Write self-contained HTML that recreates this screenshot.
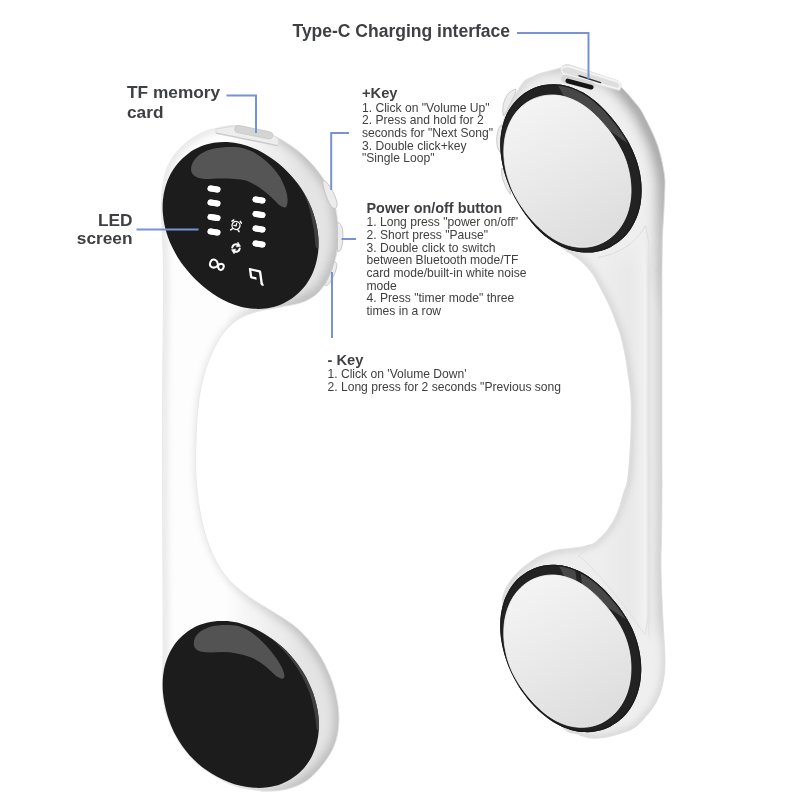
<!DOCTYPE html>
<html lang="en">
<head>
<meta charset="utf-8">
<title>Product feature diagram</title>
<style>
html,body{margin:0;padding:0;background:#fff;}
body{width:800px;height:800px;overflow:hidden;position:relative;font-family:"Liberation Sans",sans-serif;}
svg{position:absolute;left:0;top:0;display:block;}
text{font-family:"Liberation Sans",sans-serif;}
.h{font-weight:bold;fill:#3f4043;}
.b{font-size:12.1px;fill:#404040;}
.ln{fill:none;stroke:#7892d5;stroke-width:2;}
</style>
</head>
<body>
<svg width="800" height="800" viewBox="0 0 800 800">
<defs>
  <linearGradient id="gBodyL" x1="0" y1="0" x2="1" y2="0">
    <stop offset="0" stop-color="#f3f3f3"/>
    <stop offset="0.12" stop-color="#ffffff"/>
    <stop offset="0.55" stop-color="#ffffff"/>
    <stop offset="1" stop-color="#e9e9e9"/>
  </linearGradient>
  <linearGradient id="gBodyR" gradientUnits="userSpaceOnUse" x1="500" y1="0" x2="664" y2="0">
    <stop offset="0" stop-color="#ededed"/>
    <stop offset="0.6" stop-color="#eeeeee"/>
    <stop offset="0.79" stop-color="#e9e9e9"/>
    <stop offset="0.84" stop-color="#ececec"/>
    <stop offset="0.885" stop-color="#f3f3f3"/>
    <stop offset="0.905" stop-color="#e3e3e3"/>
    <stop offset="0.93" stop-color="#e8e8e8"/>
    <stop offset="1" stop-color="#dcdcdc"/>
  </linearGradient>
  <linearGradient id="gMaskL" gradientUnits="userSpaceOnUse" x1="225" y1="0" x2="305" y2="0">
    <stop offset="0" stop-color="#000"/><stop offset="1" stop-color="#fff"/>
  </linearGradient>
  <linearGradient id="gMaskR" gradientUnits="userSpaceOnUse" x1="605" y1="200" x2="665" y2="172">
    <stop offset="0" stop-color="#000"/><stop offset="1" stop-color="#fff"/>
  </linearGradient>
  <linearGradient id="gFadeB" gradientUnits="userSpaceOnUse" x1="0" y1="615" x2="0" y2="645">
    <stop offset="0" stop-color="#efefef" stop-opacity="0"/><stop offset="1" stop-color="#efefef" stop-opacity="1"/>
  </linearGradient>
  <linearGradient id="gFadeT" gradientUnits="userSpaceOnUse" x1="0" y1="240" x2="0" y2="270">
    <stop offset="0" stop-color="#efefef" stop-opacity="1"/><stop offset="1" stop-color="#efefef" stop-opacity="0"/>
  </linearGradient>
  <linearGradient id="gDisc" x1="0.15" y1="0" x2="0.6" y2="1">
    <stop offset="0" stop-color="#f5f5f5"/>
    <stop offset="0.45" stop-color="#ebebeb"/>
    <stop offset="1" stop-color="#dedede"/>
  </linearGradient>
  <filter id="blur1" x="-20%" y="-20%" width="140%" height="140%"><feGaussianBlur stdDeviation="1"/></filter>
  <filter id="blur6" x="-20%" y="-20%" width="140%" height="140%"><feGaussianBlur stdDeviation="6"/></filter>
  <filter id="blur4" x="-20%" y="-20%" width="140%" height="140%"><feGaussianBlur stdDeviation="4"/></filter>
  <filter id="blur3" x="-20%" y="-20%" width="140%" height="140%"><feGaussianBlur stdDeviation="3"/></filter>
  <filter id="glow" x="-50%" y="-50%" width="200%" height="200%"><feGaussianBlur stdDeviation="0.5"/></filter>
</defs>

<!-- ================= LEFT DEVICE ================= -->
<g id="left-device">
  <clipPath id="clipL"><path d="M162.0,226.0C161.8,220.1 161.3,213.5 161.3,207.5C161.3,201.5 161.5,195.8 162.2,190.0C162.9,184.2 163.8,177.9 165.5,172.5C167.2,167.1 169.5,162.1 172.5,157.5C175.5,152.9 179.8,148.5 183.5,145.0C187.2,141.5 191.2,138.8 195.0,136.5C198.8,134.2 202.8,132.4 206.5,131.0C210.2,129.6 213.9,128.9 217.5,128.0C221.1,127.1 224.6,126.2 228.0,125.8C231.4,125.4 235.0,125.4 238.0,125.6C241.0,125.8 243.3,126.2 246.0,126.8C248.7,127.4 251.2,128.1 254.0,129.0C256.8,129.9 259.9,130.9 263.0,132.0C266.1,133.1 269.7,134.4 272.5,135.5C275.3,136.6 277.3,137.4 280.0,138.8C282.7,140.2 285.5,142.0 288.5,144.0C291.5,146.0 294.9,148.3 298.0,150.8C301.1,153.3 304.2,156.0 307.0,158.8C309.8,161.6 312.4,164.4 315.0,167.5C317.6,170.6 320.1,173.9 322.5,177.5C324.9,181.1 327.5,184.8 329.5,189.0C331.5,193.2 333.2,198.0 334.5,203.0C335.8,208.0 336.8,213.7 337.5,219.0C338.2,224.3 338.5,229.8 338.5,235.0C338.5,240.2 338.0,245.4 337.3,250.0C336.6,254.6 335.7,258.5 334.5,262.5C333.3,266.5 331.8,270.2 330.0,274.0C328.2,277.8 326.5,281.9 324.0,285.5C321.5,289.1 318.7,292.7 315.0,295.5C311.3,298.3 307.2,300.7 302.0,302.5C296.8,304.3 290.7,305.2 284.0,306.5C277.3,307.8 268.2,309.1 262.0,310.5C255.8,311.9 251.2,313.0 246.5,315.0C241.8,317.0 237.8,319.2 233.8,322.5C229.7,325.8 225.5,330.1 222.0,335.0C218.5,339.9 215.2,346.2 212.5,352.0C209.8,357.8 207.5,363.7 205.5,370.0C203.5,376.3 201.8,383.3 200.5,390.0C199.2,396.7 198.5,403.3 197.8,410.0C197.1,416.7 196.7,423.3 196.4,430.0C196.1,436.7 195.9,443.3 195.8,450.0C195.7,456.7 195.6,463.7 195.8,470.0C196.0,476.3 196.1,481.3 196.8,488.0C197.5,494.7 198.4,502.2 199.8,510.0C201.2,517.8 203.1,527.0 205.5,535.0C207.9,543.0 211.0,551.0 214.5,558.0C218.0,565.0 222.4,571.8 226.5,577.0C230.6,582.2 234.5,585.2 239.0,589.0C243.5,592.8 247.8,596.0 253.8,600.0C259.8,604.0 267.7,608.2 275.0,613.0C282.3,617.8 290.5,622.2 297.5,628.5C304.5,634.8 311.5,642.9 317.0,651.0C322.5,659.1 327.1,668.5 330.5,677.0C333.9,685.5 336.1,694.0 337.5,702.0C338.9,710.0 339.3,717.8 338.8,725.0C338.3,732.2 337.0,738.7 334.5,745.0C332.0,751.3 328.6,757.1 324.0,763.0C319.4,768.9 313.2,776.1 307.0,780.5C300.8,784.9 294.0,787.5 287.0,789.3C280.0,791.1 271.0,791.3 265.0,791.3C259.0,791.3 255.2,790.1 251.0,789.5C246.8,788.9 243.7,788.5 240.0,787.5C236.3,786.5 232.5,785.4 228.8,783.8C225.0,782.1 221.3,780.0 217.5,777.8C213.7,775.5 209.5,773.0 206.0,770.5C202.5,768.0 199.4,765.9 196.2,763.0C193.1,760.1 190.0,756.5 187.2,753.2C184.5,750.0 182.0,747.0 179.8,743.5C177.5,740.0 175.5,735.7 173.8,732.0C172.0,728.3 170.5,725.2 169.0,721.5C167.5,717.8 166.0,713.8 165.0,710.0C164.0,706.2 163.4,702.5 163.0,698.8C162.6,695.0 162.4,691.3 162.3,687.5C162.2,683.7 162.4,680.6 162.5,676.0C162.6,671.4 162.9,666.0 163.0,660.0C163.1,654.0 163.1,647.5 163.1,640.0C163.1,632.5 163.1,628.3 163.1,615.0C163.1,601.7 162.9,582.5 162.8,560.0C162.7,537.5 162.5,503.3 162.4,480.0C162.3,456.7 162.3,440.0 162.4,420.0C162.5,400.0 162.6,380.0 162.8,360.0C163.0,340.0 163.4,316.3 163.5,300.0C163.6,283.7 163.4,271.5 163.3,262.0C163.2,252.5 162.9,249.0 162.7,243.0C162.5,237.0 162.2,231.9 162.0,226.0Z"/></clipPath>
  <mask id="maskL" maskUnits="userSpaceOnUse" x="0" y="0" width="800" height="800">
    <rect x="0" y="0" width="800" height="800" fill="url(#gMaskL)"/>
  </mask>
  <path id="lbody" d="M162.0,226.0C161.8,220.1 161.3,213.5 161.3,207.5C161.3,201.5 161.5,195.8 162.2,190.0C162.9,184.2 163.8,177.9 165.5,172.5C167.2,167.1 169.5,162.1 172.5,157.5C175.5,152.9 179.8,148.5 183.5,145.0C187.2,141.5 191.2,138.8 195.0,136.5C198.8,134.2 202.8,132.4 206.5,131.0C210.2,129.6 213.9,128.9 217.5,128.0C221.1,127.1 224.6,126.2 228.0,125.8C231.4,125.4 235.0,125.4 238.0,125.6C241.0,125.8 243.3,126.2 246.0,126.8C248.7,127.4 251.2,128.1 254.0,129.0C256.8,129.9 259.9,130.9 263.0,132.0C266.1,133.1 269.7,134.4 272.5,135.5C275.3,136.6 277.3,137.4 280.0,138.8C282.7,140.2 285.5,142.0 288.5,144.0C291.5,146.0 294.9,148.3 298.0,150.8C301.1,153.3 304.2,156.0 307.0,158.8C309.8,161.6 312.4,164.4 315.0,167.5C317.6,170.6 320.1,173.9 322.5,177.5C324.9,181.1 327.5,184.8 329.5,189.0C331.5,193.2 333.2,198.0 334.5,203.0C335.8,208.0 336.8,213.7 337.5,219.0C338.2,224.3 338.5,229.8 338.5,235.0C338.5,240.2 338.0,245.4 337.3,250.0C336.6,254.6 335.7,258.5 334.5,262.5C333.3,266.5 331.8,270.2 330.0,274.0C328.2,277.8 326.5,281.9 324.0,285.5C321.5,289.1 318.7,292.7 315.0,295.5C311.3,298.3 307.2,300.7 302.0,302.5C296.8,304.3 290.7,305.2 284.0,306.5C277.3,307.8 268.2,309.1 262.0,310.5C255.8,311.9 251.2,313.0 246.5,315.0C241.8,317.0 237.8,319.2 233.8,322.5C229.7,325.8 225.5,330.1 222.0,335.0C218.5,339.9 215.2,346.2 212.5,352.0C209.8,357.8 207.5,363.7 205.5,370.0C203.5,376.3 201.8,383.3 200.5,390.0C199.2,396.7 198.5,403.3 197.8,410.0C197.1,416.7 196.7,423.3 196.4,430.0C196.1,436.7 195.9,443.3 195.8,450.0C195.7,456.7 195.6,463.7 195.8,470.0C196.0,476.3 196.1,481.3 196.8,488.0C197.5,494.7 198.4,502.2 199.8,510.0C201.2,517.8 203.1,527.0 205.5,535.0C207.9,543.0 211.0,551.0 214.5,558.0C218.0,565.0 222.4,571.8 226.5,577.0C230.6,582.2 234.5,585.2 239.0,589.0C243.5,592.8 247.8,596.0 253.8,600.0C259.8,604.0 267.7,608.2 275.0,613.0C282.3,617.8 290.5,622.2 297.5,628.5C304.5,634.8 311.5,642.9 317.0,651.0C322.5,659.1 327.1,668.5 330.5,677.0C333.9,685.5 336.1,694.0 337.5,702.0C338.9,710.0 339.3,717.8 338.8,725.0C338.3,732.2 337.0,738.7 334.5,745.0C332.0,751.3 328.6,757.1 324.0,763.0C319.4,768.9 313.2,776.1 307.0,780.5C300.8,784.9 294.0,787.5 287.0,789.3C280.0,791.1 271.0,791.3 265.0,791.3C259.0,791.3 255.2,790.1 251.0,789.5C246.8,788.9 243.7,788.5 240.0,787.5C236.3,786.5 232.5,785.4 228.8,783.8C225.0,782.1 221.3,780.0 217.5,777.8C213.7,775.5 209.5,773.0 206.0,770.5C202.5,768.0 199.4,765.9 196.2,763.0C193.1,760.1 190.0,756.5 187.2,753.2C184.5,750.0 182.0,747.0 179.8,743.5C177.5,740.0 175.5,735.7 173.8,732.0C172.0,728.3 170.5,725.2 169.0,721.5C167.5,717.8 166.0,713.8 165.0,710.0C164.0,706.2 163.4,702.5 163.0,698.8C162.6,695.0 162.4,691.3 162.3,687.5C162.2,683.7 162.4,680.6 162.5,676.0C162.6,671.4 162.9,666.0 163.0,660.0C163.1,654.0 163.1,647.5 163.1,640.0C163.1,632.5 163.1,628.3 163.1,615.0C163.1,601.7 162.9,582.5 162.8,560.0C162.7,537.5 162.5,503.3 162.4,480.0C162.3,456.7 162.3,440.0 162.4,420.0C162.5,400.0 162.6,380.0 162.8,360.0C163.0,340.0 163.4,316.3 163.5,300.0C163.6,283.7 163.4,271.5 163.3,262.0C163.2,252.5 162.9,249.0 162.7,243.0C162.5,237.0 162.2,231.9 162.0,226.0Z" fill="#fdfdfd"/>
  <g clip-path="url(#clipL)">
    <!-- faint overall edge shading -->
    <path d="M162.0,226.0C161.8,220.1 161.3,213.5 161.3,207.5C161.3,201.5 161.5,195.8 162.2,190.0C162.9,184.2 163.8,177.9 165.5,172.5C167.2,167.1 169.5,162.1 172.5,157.5C175.5,152.9 179.8,148.5 183.5,145.0C187.2,141.5 191.2,138.8 195.0,136.5C198.8,134.2 202.8,132.4 206.5,131.0C210.2,129.6 213.9,128.9 217.5,128.0C221.1,127.1 224.6,126.2 228.0,125.8C231.4,125.4 235.0,125.4 238.0,125.6C241.0,125.8 243.3,126.2 246.0,126.8C248.7,127.4 251.2,128.1 254.0,129.0C256.8,129.9 259.9,130.9 263.0,132.0C266.1,133.1 269.7,134.4 272.5,135.5C275.3,136.6 277.3,137.4 280.0,138.8C282.7,140.2 285.5,142.0 288.5,144.0C291.5,146.0 294.9,148.3 298.0,150.8C301.1,153.3 304.2,156.0 307.0,158.8C309.8,161.6 312.4,164.4 315.0,167.5C317.6,170.6 320.1,173.9 322.5,177.5C324.9,181.1 327.5,184.8 329.5,189.0C331.5,193.2 333.2,198.0 334.5,203.0C335.8,208.0 336.8,213.7 337.5,219.0C338.2,224.3 338.5,229.8 338.5,235.0C338.5,240.2 338.0,245.4 337.3,250.0C336.6,254.6 335.7,258.5 334.5,262.5C333.3,266.5 331.8,270.2 330.0,274.0C328.2,277.8 326.5,281.9 324.0,285.5C321.5,289.1 318.7,292.7 315.0,295.5C311.3,298.3 307.2,300.7 302.0,302.5C296.8,304.3 290.7,305.2 284.0,306.5C277.3,307.8 268.2,309.1 262.0,310.5C255.8,311.9 251.2,313.0 246.5,315.0C241.8,317.0 237.8,319.2 233.8,322.5C229.7,325.8 225.5,330.1 222.0,335.0C218.5,339.9 215.2,346.2 212.5,352.0C209.8,357.8 207.5,363.7 205.5,370.0C203.5,376.3 201.8,383.3 200.5,390.0C199.2,396.7 198.5,403.3 197.8,410.0C197.1,416.7 196.7,423.3 196.4,430.0C196.1,436.7 195.9,443.3 195.8,450.0C195.7,456.7 195.6,463.7 195.8,470.0C196.0,476.3 196.1,481.3 196.8,488.0C197.5,494.7 198.4,502.2 199.8,510.0C201.2,517.8 203.1,527.0 205.5,535.0C207.9,543.0 211.0,551.0 214.5,558.0C218.0,565.0 222.4,571.8 226.5,577.0C230.6,582.2 234.5,585.2 239.0,589.0C243.5,592.8 247.8,596.0 253.8,600.0C259.8,604.0 267.7,608.2 275.0,613.0C282.3,617.8 290.5,622.2 297.5,628.5C304.5,634.8 311.5,642.9 317.0,651.0C322.5,659.1 327.1,668.5 330.5,677.0C333.9,685.5 336.1,694.0 337.5,702.0C338.9,710.0 339.3,717.8 338.8,725.0C338.3,732.2 337.0,738.7 334.5,745.0C332.0,751.3 328.6,757.1 324.0,763.0C319.4,768.9 313.2,776.1 307.0,780.5C300.8,784.9 294.0,787.5 287.0,789.3C280.0,791.1 271.0,791.3 265.0,791.3C259.0,791.3 255.2,790.1 251.0,789.5C246.8,788.9 243.7,788.5 240.0,787.5C236.3,786.5 232.5,785.4 228.8,783.8C225.0,782.1 221.3,780.0 217.5,777.8C213.7,775.5 209.5,773.0 206.0,770.5C202.5,768.0 199.4,765.9 196.2,763.0C193.1,760.1 190.0,756.5 187.2,753.2C184.5,750.0 182.0,747.0 179.8,743.5C177.5,740.0 175.5,735.7 173.8,732.0C172.0,728.3 170.5,725.2 169.0,721.5C167.5,717.8 166.0,713.8 165.0,710.0C164.0,706.2 163.4,702.5 163.0,698.8C162.6,695.0 162.4,691.3 162.3,687.5C162.2,683.7 162.4,680.6 162.5,676.0C162.6,671.4 162.9,666.0 163.0,660.0C163.1,654.0 163.1,647.5 163.1,640.0C163.1,632.5 163.1,628.3 163.1,615.0C163.1,601.7 162.9,582.5 162.8,560.0C162.7,537.5 162.5,503.3 162.4,480.0C162.3,456.7 162.3,440.0 162.4,420.0C162.5,400.0 162.6,380.0 162.8,360.0C163.0,340.0 163.4,316.3 163.5,300.0C163.6,283.7 163.4,271.5 163.3,262.0C163.2,252.5 162.9,249.0 162.7,243.0C162.5,237.0 162.2,231.9 162.0,226.0Z" fill="none" stroke="#c4c4c4" stroke-width="7" filter="url(#blur3)" opacity="0.38" transform="translate(1.500,0)"/>
    <!-- stronger rim shading on the right of both heads -->
    <g mask="url(#maskL)">
      <rect x="200" y="100" width="160" height="700" fill="#e4e4e4"/>
      <path d="M162.0,226.0C161.8,220.1 161.3,213.5 161.3,207.5C161.3,201.5 161.5,195.8 162.2,190.0C162.9,184.2 163.8,177.9 165.5,172.5C167.2,167.1 169.5,162.1 172.5,157.5C175.5,152.9 179.8,148.5 183.5,145.0C187.2,141.5 191.2,138.8 195.0,136.5C198.8,134.2 202.8,132.4 206.5,131.0C210.2,129.6 213.9,128.9 217.5,128.0C221.1,127.1 224.6,126.2 228.0,125.8C231.4,125.4 235.0,125.4 238.0,125.6C241.0,125.8 243.3,126.2 246.0,126.8C248.7,127.4 251.2,128.1 254.0,129.0C256.8,129.9 259.9,130.9 263.0,132.0C266.1,133.1 269.7,134.4 272.5,135.5C275.3,136.6 277.3,137.4 280.0,138.8C282.7,140.2 285.5,142.0 288.5,144.0C291.5,146.0 294.9,148.3 298.0,150.8C301.1,153.3 304.2,156.0 307.0,158.8C309.8,161.6 312.4,164.4 315.0,167.5C317.6,170.6 320.1,173.9 322.5,177.5C324.9,181.1 327.5,184.8 329.5,189.0C331.5,193.2 333.2,198.0 334.5,203.0C335.8,208.0 336.8,213.7 337.5,219.0C338.2,224.3 338.5,229.8 338.5,235.0C338.5,240.2 338.0,245.4 337.3,250.0C336.6,254.6 335.7,258.5 334.5,262.5C333.3,266.5 331.8,270.2 330.0,274.0C328.2,277.8 326.5,281.9 324.0,285.5C321.5,289.1 318.7,292.7 315.0,295.5C311.3,298.3 307.2,300.7 302.0,302.5C296.8,304.3 290.7,305.2 284.0,306.5C277.3,307.8 268.2,309.1 262.0,310.5C255.8,311.9 251.2,313.0 246.5,315.0C241.8,317.0 237.8,319.2 233.8,322.5C229.7,325.8 225.5,330.1 222.0,335.0C218.5,339.9 215.2,346.2 212.5,352.0C209.8,357.8 207.5,363.7 205.5,370.0C203.5,376.3 201.8,383.3 200.5,390.0C199.2,396.7 198.5,403.3 197.8,410.0C197.1,416.7 196.7,423.3 196.4,430.0C196.1,436.7 195.9,443.3 195.8,450.0C195.7,456.7 195.6,463.7 195.8,470.0C196.0,476.3 196.1,481.3 196.8,488.0C197.5,494.7 198.4,502.2 199.8,510.0C201.2,517.8 203.1,527.0 205.5,535.0C207.9,543.0 211.0,551.0 214.5,558.0C218.0,565.0 222.4,571.8 226.5,577.0C230.6,582.2 234.5,585.2 239.0,589.0C243.5,592.8 247.8,596.0 253.8,600.0C259.8,604.0 267.7,608.2 275.0,613.0C282.3,617.8 290.5,622.2 297.5,628.5C304.5,634.8 311.5,642.9 317.0,651.0C322.5,659.1 327.1,668.5 330.5,677.0C333.9,685.5 336.1,694.0 337.5,702.0C338.9,710.0 339.3,717.8 338.8,725.0C338.3,732.2 337.0,738.7 334.5,745.0C332.0,751.3 328.6,757.1 324.0,763.0C319.4,768.9 313.2,776.1 307.0,780.5C300.8,784.9 294.0,787.5 287.0,789.3C280.0,791.1 271.0,791.3 265.0,791.3C259.0,791.3 255.2,790.1 251.0,789.5C246.8,788.9 243.7,788.5 240.0,787.5C236.3,786.5 232.5,785.4 228.8,783.8C225.0,782.1 221.3,780.0 217.5,777.8C213.7,775.5 209.5,773.0 206.0,770.5C202.5,768.0 199.4,765.9 196.2,763.0C193.1,760.1 190.0,756.5 187.2,753.2C184.5,750.0 182.0,747.0 179.8,743.5C177.5,740.0 175.5,735.7 173.8,732.0C172.0,728.3 170.5,725.2 169.0,721.5C167.5,717.8 166.0,713.8 165.0,710.0C164.0,706.2 163.4,702.5 163.0,698.8C162.6,695.0 162.4,691.3 162.3,687.5C162.2,683.7 162.4,680.6 162.5,676.0C162.6,671.4 162.9,666.0 163.0,660.0C163.1,654.0 163.1,647.5 163.1,640.0C163.1,632.5 163.1,628.3 163.1,615.0C163.1,601.7 162.9,582.5 162.8,560.0C162.7,537.5 162.5,503.3 162.4,480.0C162.3,456.7 162.3,440.0 162.4,420.0C162.5,400.0 162.6,380.0 162.8,360.0C163.0,340.0 163.4,316.3 163.5,300.0C163.6,283.7 163.4,271.5 163.3,262.0C163.2,252.5 162.9,249.0 162.7,243.0C162.5,237.0 162.2,231.9 162.0,226.0Z" fill="none" stroke="#9a9a9a" stroke-width="14" filter="url(#blur4)" transform="translate(2,-1)" opacity="0.5"/>
    </g>
  </g>
  <path d="M162.0,226.0C161.8,220.1 161.3,213.5 161.3,207.5C161.3,201.5 161.5,195.8 162.2,190.0C162.9,184.2 163.8,177.9 165.5,172.5C167.2,167.1 169.5,162.1 172.5,157.5C175.5,152.9 179.8,148.5 183.5,145.0C187.2,141.5 191.2,138.8 195.0,136.5C198.8,134.2 202.8,132.4 206.5,131.0C210.2,129.6 213.9,128.9 217.5,128.0C221.1,127.1 224.6,126.2 228.0,125.8C231.4,125.4 235.0,125.4 238.0,125.6C241.0,125.8 243.3,126.2 246.0,126.8C248.7,127.4 251.2,128.1 254.0,129.0C256.8,129.9 259.9,130.9 263.0,132.0C266.1,133.1 269.7,134.4 272.5,135.5C275.3,136.6 277.3,137.4 280.0,138.8C282.7,140.2 285.5,142.0 288.5,144.0C291.5,146.0 294.9,148.3 298.0,150.8C301.1,153.3 304.2,156.0 307.0,158.8C309.8,161.6 312.4,164.4 315.0,167.5C317.6,170.6 320.1,173.9 322.5,177.5C324.9,181.1 327.5,184.8 329.5,189.0C331.5,193.2 333.2,198.0 334.5,203.0C335.8,208.0 336.8,213.7 337.5,219.0C338.2,224.3 338.5,229.8 338.5,235.0C338.5,240.2 338.0,245.4 337.3,250.0C336.6,254.6 335.7,258.5 334.5,262.5C333.3,266.5 331.8,270.2 330.0,274.0C328.2,277.8 326.5,281.9 324.0,285.5C321.5,289.1 318.7,292.7 315.0,295.5C311.3,298.3 307.2,300.7 302.0,302.5C296.8,304.3 290.7,305.2 284.0,306.5C277.3,307.8 268.2,309.1 262.0,310.5C255.8,311.9 251.2,313.0 246.5,315.0C241.8,317.0 237.8,319.2 233.8,322.5C229.7,325.8 225.5,330.1 222.0,335.0C218.5,339.9 215.2,346.2 212.5,352.0C209.8,357.8 207.5,363.7 205.5,370.0C203.5,376.3 201.8,383.3 200.5,390.0C199.2,396.7 198.5,403.3 197.8,410.0C197.1,416.7 196.7,423.3 196.4,430.0C196.1,436.7 195.9,443.3 195.8,450.0C195.7,456.7 195.6,463.7 195.8,470.0C196.0,476.3 196.1,481.3 196.8,488.0C197.5,494.7 198.4,502.2 199.8,510.0C201.2,517.8 203.1,527.0 205.5,535.0C207.9,543.0 211.0,551.0 214.5,558.0C218.0,565.0 222.4,571.8 226.5,577.0C230.6,582.2 234.5,585.2 239.0,589.0C243.5,592.8 247.8,596.0 253.8,600.0C259.8,604.0 267.7,608.2 275.0,613.0C282.3,617.8 290.5,622.2 297.5,628.5C304.5,634.8 311.5,642.9 317.0,651.0C322.5,659.1 327.1,668.5 330.5,677.0C333.9,685.5 336.1,694.0 337.5,702.0C338.9,710.0 339.3,717.8 338.8,725.0C338.3,732.2 337.0,738.7 334.5,745.0C332.0,751.3 328.6,757.1 324.0,763.0C319.4,768.9 313.2,776.1 307.0,780.5C300.8,784.9 294.0,787.5 287.0,789.3C280.0,791.1 271.0,791.3 265.0,791.3C259.0,791.3 255.2,790.1 251.0,789.5C246.8,788.9 243.7,788.5 240.0,787.5C236.3,786.5 232.5,785.4 228.8,783.8C225.0,782.1 221.3,780.0 217.5,777.8C213.7,775.5 209.5,773.0 206.0,770.5C202.5,768.0 199.4,765.9 196.2,763.0C193.1,760.1 190.0,756.5 187.2,753.2C184.5,750.0 182.0,747.0 179.8,743.5C177.5,740.0 175.5,735.7 173.8,732.0C172.0,728.3 170.5,725.2 169.0,721.5C167.5,717.8 166.0,713.8 165.0,710.0C164.0,706.2 163.4,702.5 163.0,698.8C162.6,695.0 162.4,691.3 162.3,687.5C162.2,683.7 162.4,680.6 162.5,676.0C162.6,671.4 162.9,666.0 163.0,660.0C163.1,654.0 163.1,647.5 163.1,640.0C163.1,632.5 163.1,628.3 163.1,615.0C163.1,601.7 162.9,582.5 162.8,560.0C162.7,537.5 162.5,503.3 162.4,480.0C162.3,456.7 162.3,440.0 162.4,420.0C162.5,400.0 162.6,380.0 162.8,360.0C163.0,340.0 163.4,316.3 163.5,300.0C163.6,283.7 163.4,271.5 163.3,262.0C163.2,252.5 162.9,249.0 162.7,243.0C162.5,237.0 162.2,231.9 162.0,226.0Z" fill="none" stroke="#e6e6e6" stroke-width="0.8"/>
  <!-- side buttons -->
  <path d="M322.500,181.500 C324,180.300 326,181 328,184 C331.500,188.500 335,195 336.800,201.500 C337.500,205 337,207.500 335.300,208.500 C333.500,208.800 331.500,207 330,204.500 C327,199 324,191 322.500,181.500 Z" fill="#ececec" stroke="#c2c2c2" stroke-width="0.900"/>
  <path d="M337.300,222.300 C339.500,222.500 341.800,225 342.600,230 C343.300,236 343,243 341.500,248 C340.500,250.800 339,252 337.800,251.500 C337,246 337.500,238 337.500,232 C337.500,228 337,225 337.300,222.300 Z" fill="#ececec" stroke="#c2c2c2" stroke-width="0.900"/>
  <path d="M334.300,261.500 C336.500,262 337.300,264.500 336.500,268 C335,274 332,280 328.500,284.300 C327,285.800 325.300,286 324.500,285 C326.500,281 330,275 332,269 C333,266 333.500,263 334.300,261.500 Z" fill="#ececec" stroke="#c2c2c2" stroke-width="0.900"/>
  <!-- TF slot -->
  <path d="M216,129 L238,125.500 L276,136.500 L279,141 L278,146 L216,133.500 Z" fill="#ededed" stroke="#d6d6d6" stroke-width="0.8"/>
  <path d="M216.500,133 L277.500,145.500" stroke="#c9c9c9" stroke-width="1.2" fill="none"/>
  <rect x="234.500" y="128.600" width="38.500" height="7.200" rx="3.600" fill="#d4d4d4" stroke="#c6c6c6" stroke-width="0.700" transform="rotate(11.500 253.700 132.200)"/>
  <!-- LED screen -->
  <path d="M316.7,225.4C317.5,229.4 318.1,233.5 318.4,237.7C318.6,241.9 318.7,246.3 318.3,250.6C317.9,254.9 317.1,259.4 315.9,263.7C314.7,268.1 313.1,272.4 311.0,276.5C308.9,280.6 306.3,284.6 303.3,288.1C300.4,291.6 296.9,294.9 293.2,297.6C289.4,300.4 285.2,302.7 281.0,304.5C276.7,306.2 272.1,307.5 267.6,308.2C263.1,308.9 258.4,309.0 253.9,308.8C249.4,308.5 244.9,307.7 240.7,306.7C236.4,305.6 232.3,304.1 228.5,302.4C224.6,300.8 221.0,298.8 217.5,296.7C214.1,294.6 210.8,292.4 207.7,290.0C204.7,287.7 201.8,285.2 199.0,282.7C196.3,280.2 193.7,277.6 191.2,274.9C188.7,272.2 186.4,269.4 184.1,266.5C181.9,263.6 179.8,260.6 177.8,257.4C175.9,254.3 174.0,251.0 172.4,247.6C170.7,244.2 169.2,240.6 167.9,236.9C166.6,233.2 165.4,229.4 164.6,225.4C163.7,221.4 163.1,217.3 162.8,213.1C162.5,208.9 162.5,204.5 162.9,200.1C163.3,195.8 164.1,191.3 165.3,187.0C166.6,182.7 168.3,178.4 170.4,174.3C172.5,170.3 175.1,166.3 178.1,162.9C181.1,159.4 184.6,156.1 188.4,153.4C192.1,150.7 196.3,148.4 200.5,146.6C204.8,144.8 209.3,143.6 213.8,142.8C218.3,142.0 223.0,141.8 227.5,142.0C231.9,142.2 236.4,142.9 240.7,143.9C244.9,144.9 249.1,146.3 253.0,147.9C256.9,149.5 260.6,151.4 264.1,153.4C267.6,155.4 270.9,157.6 274.0,159.9C277.2,162.3 280.1,164.7 282.9,167.3C285.7,169.8 288.3,172.5 290.8,175.2C293.3,178.0 295.7,180.9 297.9,183.8C300.1,186.8 302.1,189.9 304.0,193.1C306.0,196.3 307.7,199.6 309.3,203.1C310.9,206.6 312.3,210.1 313.6,213.9C314.8,217.6 315.9,221.4 316.7,225.4Z" fill="#1c1c1c"/>
  <clipPath id="clipLT"><path d="M316.7,225.4C317.5,229.4 318.1,233.5 318.4,237.7C318.6,241.9 318.7,246.3 318.3,250.6C317.9,254.9 317.1,259.4 315.9,263.7C314.7,268.1 313.1,272.4 311.0,276.5C308.9,280.6 306.3,284.6 303.3,288.1C300.4,291.6 296.9,294.9 293.2,297.6C289.4,300.4 285.2,302.7 281.0,304.5C276.7,306.2 272.1,307.5 267.6,308.2C263.1,308.9 258.4,309.0 253.9,308.8C249.4,308.5 244.9,307.7 240.7,306.7C236.4,305.6 232.3,304.1 228.5,302.4C224.6,300.8 221.0,298.8 217.5,296.7C214.1,294.6 210.8,292.4 207.7,290.0C204.7,287.7 201.8,285.2 199.0,282.7C196.3,280.2 193.7,277.6 191.2,274.9C188.7,272.2 186.4,269.4 184.1,266.5C181.9,263.6 179.8,260.6 177.8,257.4C175.9,254.3 174.0,251.0 172.4,247.6C170.7,244.2 169.2,240.6 167.9,236.9C166.6,233.2 165.4,229.4 164.6,225.4C163.7,221.4 163.1,217.3 162.8,213.1C162.5,208.9 162.5,204.5 162.9,200.1C163.3,195.8 164.1,191.3 165.3,187.0C166.6,182.7 168.3,178.4 170.4,174.3C172.5,170.3 175.1,166.3 178.1,162.9C181.1,159.4 184.6,156.1 188.4,153.4C192.1,150.7 196.3,148.4 200.5,146.6C204.8,144.8 209.3,143.6 213.8,142.8C218.3,142.0 223.0,141.8 227.5,142.0C231.9,142.2 236.4,142.9 240.7,143.9C244.9,144.9 249.1,146.3 253.0,147.9C256.9,149.5 260.6,151.4 264.1,153.4C267.6,155.4 270.9,157.6 274.0,159.9C277.2,162.3 280.1,164.7 282.9,167.3C285.7,169.8 288.3,172.5 290.8,175.2C293.3,178.0 295.7,180.9 297.9,183.8C300.1,186.8 302.1,189.9 304.0,193.1C306.0,196.3 307.7,199.6 309.3,203.1C310.9,206.6 312.3,210.1 313.6,213.9C314.8,217.6 315.9,221.4 316.7,225.4Z"/></clipPath>
  <g clip-path="url(#clipLT)">
    <path d="M268,150 C290,162 306,185 313,212 C316,224 317.500,236 318,246" fill="none" stroke="#474747" stroke-width="5" stroke-linecap="round" opacity="0.85"/>
  </g>
  <path d="M191,170 C191,160 200,152 212,149 C222,147 232,146.500 240,147.500 C255,150 270,162 280,177 C286,188 289,198 287,205 C286,209 283,208 278,204 C270,195 258,185 246,180.500 C236,178.500 222,178 210,179 C200,179.500 192,177 191,170 Z" fill="#555555"/>
  <g id="led" fill="#ffffff">
    <g filter="url(#glow)" opacity="0.9">
      <rect x="207.500" y="186" width="13" height="6" rx="3" transform="rotate(9 214 189)"/>
      <rect x="207.500" y="200" width="13" height="6" rx="3" transform="rotate(9 214 203)"/>
      <rect x="207.500" y="214.500" width="13" height="6" rx="3" transform="rotate(9 214 217.500)"/>
      <rect x="207.500" y="229" width="13" height="6" rx="3" transform="rotate(9 214 232)"/>
      <rect x="252.500" y="197" width="13" height="6" rx="3" transform="rotate(9 259 200)"/>
      <rect x="252.500" y="211.500" width="13" height="6" rx="3" transform="rotate(9 259 214.500)"/>
      <rect x="252.500" y="226" width="13" height="6" rx="3" transform="rotate(9 259 229)"/>
      <rect x="252.500" y="241" width="13" height="6" rx="3" transform="rotate(9 259 244)"/>
    </g>
    <rect x="207.5" y="186.1" width="13" height="5.800" rx="2.900" transform="rotate(9 214 189)"/>
    <rect x="207.5" y="200.1" width="13" height="5.800" rx="2.900" transform="rotate(9 214 203)"/>
    <rect x="207.5" y="214.6" width="13" height="5.800" rx="2.900" transform="rotate(9 214 217.500)"/>
    <rect x="207.5" y="229.1" width="13" height="5.800" rx="2.900" transform="rotate(9 214 232)"/>
    <rect x="252.5" y="197.1" width="13" height="5.800" rx="2.900" transform="rotate(9 259 200)"/>
    <rect x="252.5" y="211.6" width="13" height="5.800" rx="2.900" transform="rotate(9 259 214.500)"/>
    <rect x="252.5" y="226.1" width="13" height="5.800" rx="2.900" transform="rotate(9 259 229)"/>
    <rect x="252.5" y="241.1" width="13" height="5.800" rx="2.900" transform="rotate(9 259 244)"/>
  </g>
  <g id="led-icons" fill="none" stroke="#ffffff" stroke-linecap="round" stroke-linejoin="round">
    <!-- alarm clock -->
    <g transform="translate(236 225.500) rotate(12)" stroke-width="1.300">
      <circle cx="0" cy="0" r="4"/>
      <path d="M0.200,-2 V0.300 H-2"/>
      <path d="M-4.800,-3.400 L-3.300,-5 M4.800,-3.400 L3.300,-5 M-3,4 L-4.300,5.400 M3,4 L4.300,5.400" stroke-width="1.500"/>
    </g>
    <!-- refresh -->
    <g transform="translate(236 248) rotate(18)" stroke-width="2">
      <path d="M-3.700,0.800 A3.800,3.800 0 0 1 0.800,-3.700"/>
      <path d="M3.700,-0.800 A3.800,3.800 0 0 1 -0.800,3.700"/>
      <path d="M0.200,-6 L3.800,-3 L0.200,-1.200 Z" fill="#fff" stroke-width="0.500"/>
      <path d="M-0.200,6 L-3.800,3 L-0.200,1.200 Z" fill="#fff" stroke-width="0.500"/>
    </g>
    <!-- sleep / infinity -->
    <g transform="translate(217.200 265.200) rotate(22)" stroke-width="2">
      <path d="M0.800,0 C-1.800,-6 -7.400,-5 -7.400,-0.200 C-7.400,4.800 -1.800,5.600 0.800,0 C2.600,-4.200 6.800,-3.600 6.800,0.200 C6.800,4 2.600,4.400 0.800,0 Z"/>
    </g>
    <!-- music -->
    <g transform="matrix(1 0.24 0.14 1 255.600 275.800)" stroke-width="2.400" stroke-linecap="butt" stroke-linejoin="round">
      <path d="M0.500,2.600 L-4.800,2.600 L-4.800,-5.500 L5.200,-5.500 L5.200,7.500"/>
      <circle cx="5.600" cy="7.200" r="1.500" fill="#fff" stroke="none"/>
    </g>
  </g>
  <!-- bottom pad -->
  <path d="M316.4,704.5C317.4,708.4 318.1,712.5 318.5,716.8C318.9,721.0 319.1,725.4 318.8,729.8C318.5,734.2 317.9,738.8 316.8,743.2C315.6,747.6 314.0,752.1 311.9,756.2C309.8,760.3 307.1,764.3 304.1,767.9C301.0,771.4 297.4,774.7 293.6,777.3C289.8,780.0 285.5,782.2 281.2,783.9C276.8,785.6 272.1,786.7 267.6,787.3C263.1,788.0 258.4,788.0 253.9,787.8C249.4,787.5 244.9,786.8 240.7,785.8C236.4,784.8 232.3,783.4 228.4,781.9C224.5,780.4 220.8,778.6 217.2,776.7C213.6,774.8 210.2,772.7 207.0,770.5C203.8,768.3 200.7,765.9 197.9,763.4C195.0,760.9 192.3,758.2 189.7,755.4C187.2,752.6 184.8,749.7 182.6,746.6C180.4,743.6 178.4,740.4 176.6,737.1C174.8,733.8 173.1,730.4 171.6,726.9C170.1,723.4 168.8,719.8 167.6,716.0C166.5,712.3 165.5,708.4 164.7,704.5C163.9,700.5 163.2,696.4 162.9,692.1C162.6,687.9 162.5,683.5 162.8,679.1C163.1,674.8 163.7,670.2 164.8,665.8C166.0,661.4 167.5,656.9 169.6,652.8C171.7,648.7 174.2,644.6 177.2,641.0C180.2,637.5 183.8,634.1 187.6,631.4C191.4,628.7 195.7,626.4 200.1,624.8C204.4,623.1 209.1,622.0 213.7,621.4C218.2,620.8 223.0,620.8 227.5,621.1C232.0,621.5 236.5,622.4 240.7,623.5C244.9,624.6 249.0,626.1 252.8,627.8C256.7,629.4 260.3,631.4 263.8,633.4C267.2,635.4 270.5,637.6 273.6,639.9C276.6,642.2 279.6,644.6 282.3,647.1C285.1,649.6 287.7,652.2 290.2,654.9C292.7,657.6 295.0,660.4 297.2,663.4C299.4,666.3 301.4,669.4 303.3,672.5C305.3,675.7 307.0,679.0 308.6,682.4C310.3,685.8 311.7,689.3 313.1,693.0C314.4,696.7 315.5,700.5 316.4,704.5Z" fill="#1c1c1c"/>
  <clipPath id="clipLB"><path d="M316.4,704.5C317.4,708.4 318.1,712.5 318.5,716.8C318.9,721.0 319.1,725.4 318.8,729.8C318.5,734.2 317.9,738.8 316.8,743.2C315.6,747.6 314.0,752.1 311.9,756.2C309.8,760.3 307.1,764.3 304.1,767.9C301.0,771.4 297.4,774.7 293.6,777.3C289.8,780.0 285.5,782.2 281.2,783.9C276.8,785.6 272.1,786.7 267.6,787.3C263.1,788.0 258.4,788.0 253.9,787.8C249.4,787.5 244.9,786.8 240.7,785.8C236.4,784.8 232.3,783.4 228.4,781.9C224.5,780.4 220.8,778.6 217.2,776.7C213.6,774.8 210.2,772.7 207.0,770.5C203.8,768.3 200.7,765.9 197.9,763.4C195.0,760.9 192.3,758.2 189.7,755.4C187.2,752.6 184.8,749.7 182.6,746.6C180.4,743.6 178.4,740.4 176.6,737.1C174.8,733.8 173.1,730.4 171.6,726.9C170.1,723.4 168.8,719.8 167.6,716.0C166.5,712.3 165.5,708.4 164.7,704.5C163.9,700.5 163.2,696.4 162.9,692.1C162.6,687.9 162.5,683.5 162.8,679.1C163.1,674.8 163.7,670.2 164.8,665.8C166.0,661.4 167.5,656.9 169.6,652.8C171.7,648.7 174.2,644.6 177.2,641.0C180.2,637.5 183.8,634.1 187.6,631.4C191.4,628.7 195.7,626.4 200.1,624.8C204.4,623.1 209.1,622.0 213.7,621.4C218.2,620.8 223.0,620.8 227.5,621.1C232.0,621.5 236.5,622.4 240.7,623.5C244.9,624.6 249.0,626.1 252.8,627.8C256.7,629.4 260.3,631.4 263.8,633.4C267.2,635.4 270.5,637.6 273.6,639.9C276.6,642.2 279.6,644.6 282.3,647.1C285.1,649.6 287.7,652.2 290.2,654.9C292.7,657.6 295.0,660.4 297.2,663.4C299.4,666.3 301.4,669.4 303.3,672.5C305.3,675.7 307.0,679.0 308.6,682.4C310.3,685.8 311.7,689.3 313.1,693.0C314.4,696.7 315.5,700.5 316.4,704.5Z"/></clipPath>
  <g clip-path="url(#clipLB)">
    <path d="M262,629 C285,643 303,668 312,692 C316,704 318,716 319,728" fill="none" stroke="#474747" stroke-width="5" stroke-linecap="round" opacity="0.85"/>
  </g>
  <path d="M193.800,644 C193.500,636 200,630 211,626.500 C220,624.500 230,624.500 238,626 C250,628.500 262,641 270,650 C278,660 284,669 284.500,676 C284,680 281,679 276,676 C268,668 260,661 250,657 C242,654 232,652 222,652 C212,652.500 203,653 198,650.500 C195,649 194,647 193.800,644 Z" fill="#535353"/>
</g>

<!-- ================= RIGHT DEVICE ================= -->
<g id="right-device">
  <clipPath id="clipR"><path d="M540.0,73.5C543.1,72.5 547.9,71.4 551.2,70.5C554.6,69.6 558.3,68.8 560.2,68.0C562.2,67.2 561.7,66.4 563.0,65.8C564.3,65.2 565.6,64.3 568.0,64.6C570.4,64.9 573.8,66.3 577.5,67.5C581.2,68.7 586.2,70.2 590.0,71.5C593.8,72.8 596.3,73.6 600.0,75.0C603.7,76.4 608.7,78.2 612.0,80.0C615.3,81.8 617.5,83.8 620.0,86.0C622.5,88.2 624.5,90.2 627.0,93.0C629.5,95.8 632.7,99.6 635.0,102.5C637.3,105.4 638.9,106.9 641.0,110.2C643.1,113.6 645.5,118.5 647.5,122.5C649.5,126.5 651.3,130.2 653.0,134.0C654.7,137.8 656.2,141.2 657.5,145.0C658.8,148.8 660.0,153.0 661.0,157.0C662.0,161.0 662.8,165.0 663.5,169.0C664.2,173.0 664.8,176.7 665.0,181.0C665.2,185.3 664.8,190.2 664.6,195.0C664.4,199.8 664.2,205.0 664.0,210.0C663.8,215.0 663.4,220.0 663.1,225.0C662.8,230.0 662.6,232.5 662.4,240.0C662.2,247.5 662.1,260.0 662.0,270.0C661.9,280.0 662.0,286.7 662.0,300.0C662.0,313.3 662.0,333.3 662.0,350.0C662.0,366.7 662.0,383.3 662.0,400.0C662.0,416.7 662.0,433.3 662.0,450.0C662.0,466.7 662.1,485.0 662.0,500.0C661.9,515.0 661.7,530.0 661.5,540.0C661.3,550.0 661.0,552.5 661.0,560.0C661.0,567.5 661.2,576.7 661.5,585.0C661.8,593.3 662.2,602.5 662.5,610.0C662.8,617.5 663.2,623.8 663.5,630.0C663.8,636.2 664.2,641.7 664.5,647.5C664.8,653.3 665.3,658.8 665.0,665.0C664.7,671.2 664.0,678.8 662.5,685.0C661.0,691.2 658.9,697.1 656.0,702.5C653.1,707.9 648.7,713.2 645.0,717.5C641.3,721.8 638.1,725.2 633.8,728.0C629.4,730.8 623.8,732.4 618.8,734.0C613.8,735.6 608.5,736.8 603.8,737.5C599.0,738.2 594.8,738.7 590.0,738.0C585.2,737.3 578.8,734.7 575.0,733.5C571.2,732.3 571.4,734.1 567.0,731.0C562.6,727.9 554.8,720.7 548.8,715.0C542.8,709.3 536.0,702.5 531.0,697.0C526.0,691.5 522.5,688.0 519.0,682.0C515.5,676.0 512.2,667.2 510.0,661.0C507.8,654.8 506.9,651.5 506.0,645.0C505.1,638.5 504.9,628.3 504.5,622.0C504.1,615.7 503.6,610.9 503.3,607.0C503.0,603.1 502.0,602.0 502.5,598.8C503.0,595.5 504.6,590.9 506.2,587.5C507.9,584.1 510.0,581.4 512.2,578.5C514.5,575.6 517.0,572.8 519.8,570.2C522.5,567.7 525.4,565.4 528.8,563.0C532.1,560.6 535.6,558.1 540.0,556.0C544.4,553.9 550.0,551.8 555.0,550.5C560.0,549.2 565.6,549.1 570.0,548.5C574.4,547.9 578.1,547.6 581.2,547.0C584.4,546.4 586.5,545.8 588.8,545.0C591.0,544.2 591.9,545.0 595.0,542.5C598.1,540.0 603.8,535.0 607.5,530.0C611.2,525.0 614.8,518.8 617.5,512.5C620.2,506.2 622.1,497.9 623.8,492.5C625.4,487.1 626.4,487.1 627.5,480.0C628.6,472.9 629.5,460.0 630.1,450.0C630.7,440.0 631.1,429.2 631.2,420.0C631.3,410.8 631.4,403.3 630.8,395.0C630.2,386.7 628.5,377.2 627.5,370.0C626.5,362.8 625.7,357.8 624.5,352.0C623.3,346.2 622.0,340.2 620.5,335.0C619.0,329.8 617.2,325.7 615.5,321.0C613.8,316.3 612.4,312.3 610.0,307.0C607.6,301.7 603.9,294.5 601.0,289.0C598.1,283.5 595.6,278.2 592.5,273.8C589.4,269.3 585.4,265.4 582.5,262.5C579.6,259.6 578.1,258.8 575.0,256.5C571.9,254.2 568.2,252.4 563.8,249.0C559.2,245.6 553.6,241.5 548.0,236.0C542.4,230.5 535.5,222.8 530.0,216.0C524.5,209.2 519.0,201.7 515.0,195.0C511.0,188.3 508.0,181.0 506.0,176.0C504.0,171.0 503.8,170.2 503.0,165.0C502.2,159.8 501.5,152.2 501.5,145.0C501.5,137.8 501.6,128.7 503.0,122.0C504.4,115.3 507.7,110.0 510.0,105.0C512.3,100.0 514.6,96.0 517.0,92.0C519.4,88.0 521.7,83.8 524.2,81.2C526.8,78.7 529.9,78.0 532.5,76.8C535.1,75.5 536.9,74.5 540.0,73.5Z"/></clipPath>
  <mask id="maskR" maskUnits="userSpaceOnUse" x="0" y="0" width="800" height="800">
    <rect x="0" y="0" width="800" height="800" fill="url(#gMaskR)"/>
  </mask>
  <path id="rbody" d="M540.0,73.5C543.1,72.5 547.9,71.4 551.2,70.5C554.6,69.6 558.3,68.8 560.2,68.0C562.2,67.2 561.7,66.4 563.0,65.8C564.3,65.2 565.6,64.3 568.0,64.6C570.4,64.9 573.8,66.3 577.5,67.5C581.2,68.7 586.2,70.2 590.0,71.5C593.8,72.8 596.3,73.6 600.0,75.0C603.7,76.4 608.7,78.2 612.0,80.0C615.3,81.8 617.5,83.8 620.0,86.0C622.5,88.2 624.5,90.2 627.0,93.0C629.5,95.8 632.7,99.6 635.0,102.5C637.3,105.4 638.9,106.9 641.0,110.2C643.1,113.6 645.5,118.5 647.5,122.5C649.5,126.5 651.3,130.2 653.0,134.0C654.7,137.8 656.2,141.2 657.5,145.0C658.8,148.8 660.0,153.0 661.0,157.0C662.0,161.0 662.8,165.0 663.5,169.0C664.2,173.0 664.8,176.7 665.0,181.0C665.2,185.3 664.8,190.2 664.6,195.0C664.4,199.8 664.2,205.0 664.0,210.0C663.8,215.0 663.4,220.0 663.1,225.0C662.8,230.0 662.6,232.5 662.4,240.0C662.2,247.5 662.1,260.0 662.0,270.0C661.9,280.0 662.0,286.7 662.0,300.0C662.0,313.3 662.0,333.3 662.0,350.0C662.0,366.7 662.0,383.3 662.0,400.0C662.0,416.7 662.0,433.3 662.0,450.0C662.0,466.7 662.1,485.0 662.0,500.0C661.9,515.0 661.7,530.0 661.5,540.0C661.3,550.0 661.0,552.5 661.0,560.0C661.0,567.5 661.2,576.7 661.5,585.0C661.8,593.3 662.2,602.5 662.5,610.0C662.8,617.5 663.2,623.8 663.5,630.0C663.8,636.2 664.2,641.7 664.5,647.5C664.8,653.3 665.3,658.8 665.0,665.0C664.7,671.2 664.0,678.8 662.5,685.0C661.0,691.2 658.9,697.1 656.0,702.5C653.1,707.9 648.7,713.2 645.0,717.5C641.3,721.8 638.1,725.2 633.8,728.0C629.4,730.8 623.8,732.4 618.8,734.0C613.8,735.6 608.5,736.8 603.8,737.5C599.0,738.2 594.8,738.7 590.0,738.0C585.2,737.3 578.8,734.7 575.0,733.5C571.2,732.3 571.4,734.1 567.0,731.0C562.6,727.9 554.8,720.7 548.8,715.0C542.8,709.3 536.0,702.5 531.0,697.0C526.0,691.5 522.5,688.0 519.0,682.0C515.5,676.0 512.2,667.2 510.0,661.0C507.8,654.8 506.9,651.5 506.0,645.0C505.1,638.5 504.9,628.3 504.5,622.0C504.1,615.7 503.6,610.9 503.3,607.0C503.0,603.1 502.0,602.0 502.5,598.8C503.0,595.5 504.6,590.9 506.2,587.5C507.9,584.1 510.0,581.4 512.2,578.5C514.5,575.6 517.0,572.8 519.8,570.2C522.5,567.7 525.4,565.4 528.8,563.0C532.1,560.6 535.6,558.1 540.0,556.0C544.4,553.9 550.0,551.8 555.0,550.5C560.0,549.2 565.6,549.1 570.0,548.5C574.4,547.9 578.1,547.6 581.2,547.0C584.4,546.4 586.5,545.8 588.8,545.0C591.0,544.2 591.9,545.0 595.0,542.5C598.1,540.0 603.8,535.0 607.5,530.0C611.2,525.0 614.8,518.8 617.5,512.5C620.2,506.2 622.1,497.9 623.8,492.5C625.4,487.1 626.4,487.1 627.5,480.0C628.6,472.9 629.5,460.0 630.1,450.0C630.7,440.0 631.1,429.2 631.2,420.0C631.3,410.8 631.4,403.3 630.8,395.0C630.2,386.7 628.5,377.2 627.5,370.0C626.5,362.8 625.7,357.8 624.5,352.0C623.3,346.2 622.0,340.2 620.5,335.0C619.0,329.8 617.2,325.7 615.5,321.0C613.8,316.3 612.4,312.3 610.0,307.0C607.6,301.7 603.9,294.5 601.0,289.0C598.1,283.5 595.6,278.2 592.5,273.8C589.4,269.3 585.4,265.4 582.5,262.5C579.6,259.6 578.1,258.8 575.0,256.5C571.9,254.2 568.2,252.4 563.8,249.0C559.2,245.6 553.6,241.5 548.0,236.0C542.4,230.5 535.5,222.8 530.0,216.0C524.5,209.2 519.0,201.7 515.0,195.0C511.0,188.3 508.0,181.0 506.0,176.0C504.0,171.0 503.8,170.2 503.0,165.0C502.2,159.8 501.5,152.2 501.5,145.0C501.5,137.8 501.6,128.7 503.0,122.0C504.4,115.3 507.7,110.0 510.0,105.0C512.3,100.0 514.6,96.0 517.0,92.0C519.4,88.0 521.7,83.8 524.2,81.2C526.8,78.7 529.9,78.0 532.5,76.8C535.1,75.5 536.9,74.5 540.0,73.5Z" fill="url(#gBodyR)"/>
  <g clip-path="url(#clipR)">
    <rect x="600" y="615" width="75" height="140" fill="url(#gFadeB)"/>
    <rect x="600" y="55" width="75" height="215" fill="url(#gFadeT)"/>
    <path d="M540.0,73.5C543.1,72.5 547.9,71.4 551.2,70.5C554.6,69.6 558.3,68.8 560.2,68.0C562.2,67.2 561.7,66.4 563.0,65.8C564.3,65.2 565.6,64.3 568.0,64.6C570.4,64.9 573.8,66.3 577.5,67.5C581.2,68.7 586.2,70.2 590.0,71.5C593.8,72.8 596.3,73.6 600.0,75.0C603.7,76.4 608.7,78.2 612.0,80.0C615.3,81.8 617.5,83.8 620.0,86.0C622.5,88.2 624.5,90.2 627.0,93.0C629.5,95.8 632.7,99.6 635.0,102.5C637.3,105.4 638.9,106.9 641.0,110.2C643.1,113.6 645.5,118.5 647.5,122.5C649.5,126.5 651.3,130.2 653.0,134.0C654.7,137.8 656.2,141.2 657.5,145.0C658.8,148.8 660.0,153.0 661.0,157.0C662.0,161.0 662.8,165.0 663.5,169.0C664.2,173.0 664.8,176.7 665.0,181.0C665.2,185.3 664.8,190.2 664.6,195.0C664.4,199.8 664.2,205.0 664.0,210.0C663.8,215.0 663.4,220.0 663.1,225.0C662.8,230.0 662.6,232.5 662.4,240.0C662.2,247.5 662.1,260.0 662.0,270.0C661.9,280.0 662.0,286.7 662.0,300.0C662.0,313.3 662.0,333.3 662.0,350.0C662.0,366.7 662.0,383.3 662.0,400.0C662.0,416.7 662.0,433.3 662.0,450.0C662.0,466.7 662.1,485.0 662.0,500.0C661.9,515.0 661.7,530.0 661.5,540.0C661.3,550.0 661.0,552.5 661.0,560.0C661.0,567.5 661.2,576.7 661.5,585.0C661.8,593.3 662.2,602.5 662.5,610.0C662.8,617.5 663.2,623.8 663.5,630.0C663.8,636.2 664.2,641.7 664.5,647.5C664.8,653.3 665.3,658.8 665.0,665.0C664.7,671.2 664.0,678.8 662.5,685.0C661.0,691.2 658.9,697.1 656.0,702.5C653.1,707.9 648.7,713.2 645.0,717.5C641.3,721.8 638.1,725.2 633.8,728.0C629.4,730.8 623.8,732.4 618.8,734.0C613.8,735.6 608.5,736.8 603.8,737.5C599.0,738.2 594.8,738.7 590.0,738.0C585.2,737.3 578.8,734.7 575.0,733.5C571.2,732.3 571.4,734.1 567.0,731.0C562.6,727.9 554.8,720.7 548.8,715.0C542.8,709.3 536.0,702.5 531.0,697.0C526.0,691.5 522.5,688.0 519.0,682.0C515.5,676.0 512.2,667.2 510.0,661.0C507.8,654.8 506.9,651.5 506.0,645.0C505.1,638.5 504.9,628.3 504.5,622.0C504.1,615.7 503.6,610.9 503.3,607.0C503.0,603.1 502.0,602.0 502.5,598.8C503.0,595.5 504.6,590.9 506.2,587.5C507.9,584.1 510.0,581.4 512.2,578.5C514.5,575.6 517.0,572.8 519.8,570.2C522.5,567.7 525.4,565.4 528.8,563.0C532.1,560.6 535.6,558.1 540.0,556.0C544.4,553.9 550.0,551.8 555.0,550.5C560.0,549.2 565.6,549.1 570.0,548.5C574.4,547.9 578.1,547.6 581.2,547.0C584.4,546.4 586.5,545.8 588.8,545.0C591.0,544.2 591.9,545.0 595.0,542.5C598.1,540.0 603.8,535.0 607.5,530.0C611.2,525.0 614.8,518.8 617.5,512.5C620.2,506.2 622.1,497.9 623.8,492.5C625.4,487.1 626.4,487.1 627.5,480.0C628.6,472.9 629.5,460.0 630.1,450.0C630.7,440.0 631.1,429.2 631.2,420.0C631.3,410.8 631.4,403.3 630.8,395.0C630.2,386.7 628.5,377.2 627.5,370.0C626.5,362.8 625.7,357.8 624.5,352.0C623.3,346.2 622.0,340.2 620.5,335.0C619.0,329.8 617.2,325.7 615.5,321.0C613.8,316.3 612.4,312.3 610.0,307.0C607.6,301.7 603.9,294.5 601.0,289.0C598.1,283.5 595.6,278.2 592.5,273.8C589.4,269.3 585.4,265.4 582.5,262.5C579.6,259.6 578.1,258.8 575.0,256.5C571.9,254.2 568.2,252.4 563.8,249.0C559.2,245.6 553.6,241.5 548.0,236.0C542.4,230.5 535.5,222.8 530.0,216.0C524.5,209.2 519.0,201.7 515.0,195.0C511.0,188.3 508.0,181.0 506.0,176.0C504.0,171.0 503.8,170.2 503.0,165.0C502.2,159.8 501.5,152.2 501.5,145.0C501.5,137.8 501.6,128.7 503.0,122.0C504.4,115.3 507.7,110.0 510.0,105.0C512.3,100.0 514.6,96.0 517.0,92.0C519.4,88.0 521.7,83.8 524.2,81.2C526.8,78.7 529.9,78.0 532.5,76.8C535.1,75.5 536.9,74.5 540.0,73.5Z" fill="none" stroke="#c0c0c0" stroke-width="7" filter="url(#blur3)" opacity="0.5"/>
    <g mask="url(#maskR)">
      <path d="M540.0,73.5C543.1,72.5 547.9,71.4 551.2,70.5C554.6,69.6 558.3,68.8 560.2,68.0C562.2,67.2 561.7,66.4 563.0,65.8C564.3,65.2 565.6,64.3 568.0,64.6C570.4,64.9 573.8,66.3 577.5,67.5C581.2,68.7 586.2,70.2 590.0,71.5C593.8,72.8 596.3,73.6 600.0,75.0C603.7,76.4 608.7,78.2 612.0,80.0C615.3,81.8 617.5,83.8 620.0,86.0C622.5,88.2 624.5,90.2 627.0,93.0C629.5,95.8 632.7,99.6 635.0,102.5C637.3,105.4 638.9,106.9 641.0,110.2C643.1,113.6 645.5,118.5 647.5,122.5C649.5,126.5 651.3,130.2 653.0,134.0C654.7,137.8 656.2,141.2 657.5,145.0C658.8,148.8 660.0,153.0 661.0,157.0C662.0,161.0 662.8,165.0 663.5,169.0C664.2,173.0 664.8,176.7 665.0,181.0C665.2,185.3 664.8,190.2 664.6,195.0C664.4,199.8 664.2,205.0 664.0,210.0C663.8,215.0 663.4,220.0 663.1,225.0C662.8,230.0 662.6,232.5 662.4,240.0C662.2,247.5 662.1,260.0 662.0,270.0C661.9,280.0 662.0,286.7 662.0,300.0C662.0,313.3 662.0,333.3 662.0,350.0C662.0,366.7 662.0,383.3 662.0,400.0C662.0,416.7 662.0,433.3 662.0,450.0C662.0,466.7 662.1,485.0 662.0,500.0C661.9,515.0 661.7,530.0 661.5,540.0C661.3,550.0 661.0,552.5 661.0,560.0C661.0,567.5 661.2,576.7 661.5,585.0C661.8,593.3 662.2,602.5 662.5,610.0C662.8,617.5 663.2,623.8 663.5,630.0C663.8,636.2 664.2,641.7 664.5,647.5C664.8,653.3 665.3,658.8 665.0,665.0C664.7,671.2 664.0,678.8 662.5,685.0C661.0,691.2 658.9,697.1 656.0,702.5C653.1,707.9 648.7,713.2 645.0,717.5C641.3,721.8 638.1,725.2 633.8,728.0C629.4,730.8 623.8,732.4 618.8,734.0C613.8,735.6 608.5,736.8 603.8,737.5C599.0,738.2 594.8,738.7 590.0,738.0C585.2,737.3 578.8,734.7 575.0,733.5C571.2,732.3 571.4,734.1 567.0,731.0C562.6,727.9 554.8,720.7 548.8,715.0C542.8,709.3 536.0,702.5 531.0,697.0C526.0,691.5 522.5,688.0 519.0,682.0C515.5,676.0 512.2,667.2 510.0,661.0C507.8,654.8 506.9,651.5 506.0,645.0C505.1,638.5 504.9,628.3 504.5,622.0C504.1,615.7 503.6,610.9 503.3,607.0C503.0,603.1 502.0,602.0 502.5,598.8C503.0,595.5 504.6,590.9 506.2,587.5C507.9,584.1 510.0,581.4 512.2,578.5C514.5,575.6 517.0,572.8 519.8,570.2C522.5,567.7 525.4,565.4 528.8,563.0C532.1,560.6 535.6,558.1 540.0,556.0C544.4,553.9 550.0,551.8 555.0,550.5C560.0,549.2 565.6,549.1 570.0,548.5C574.4,547.9 578.1,547.6 581.2,547.0C584.4,546.4 586.5,545.8 588.8,545.0C591.0,544.2 591.9,545.0 595.0,542.5C598.1,540.0 603.8,535.0 607.5,530.0C611.2,525.0 614.8,518.8 617.5,512.5C620.2,506.2 622.1,497.9 623.8,492.5C625.4,487.1 626.4,487.1 627.5,480.0C628.6,472.9 629.5,460.0 630.1,450.0C630.7,440.0 631.1,429.2 631.2,420.0C631.3,410.8 631.4,403.3 630.8,395.0C630.2,386.7 628.5,377.2 627.5,370.0C626.5,362.8 625.7,357.8 624.5,352.0C623.3,346.2 622.0,340.2 620.5,335.0C619.0,329.8 617.2,325.7 615.5,321.0C613.8,316.3 612.4,312.3 610.0,307.0C607.6,301.7 603.9,294.5 601.0,289.0C598.1,283.5 595.6,278.2 592.5,273.8C589.4,269.3 585.4,265.4 582.5,262.5C579.6,259.6 578.1,258.8 575.0,256.5C571.9,254.2 568.2,252.4 563.8,249.0C559.2,245.6 553.6,241.5 548.0,236.0C542.4,230.5 535.5,222.8 530.0,216.0C524.5,209.2 519.0,201.7 515.0,195.0C511.0,188.3 508.0,181.0 506.0,176.0C504.0,171.0 503.8,170.2 503.0,165.0C502.2,159.8 501.5,152.2 501.5,145.0C501.5,137.8 501.6,128.7 503.0,122.0C504.4,115.3 507.7,110.0 510.0,105.0C512.3,100.0 514.6,96.0 517.0,92.0C519.4,88.0 521.7,83.8 524.2,81.2C526.8,78.7 529.9,78.0 532.5,76.8C535.1,75.5 536.9,74.5 540.0,73.5Z" fill="none" stroke="#8e8e8e" stroke-width="14" filter="url(#blur6)" transform="translate(-2,1)" opacity="0.75"/>
    </g>
    <!-- seam lines -->
    <path d="M598,257.500 C618,254 636,244 645.500,225.500 L648.700,242" fill="none" stroke="#dddddd" stroke-width="1"/>
    <path d="M628,478 C625,505 613,529 597,542.500 C589,548.500 583,552 578.500,555.750 C592,566 610,588 627.500,610 C634,619 640,628 645,635 L648.700,612" fill="none" stroke="#e0e0e0" stroke-width="1"/>
    <path d="M648.700,240 L648.700,635" fill="none" stroke="#e2e2e2" stroke-width="1"/>
    <path d="M642.500,275 L642.500,600" fill="none" stroke="#ececec" stroke-width="1"/>
  </g>
  <path d="M540.0,73.5C543.1,72.5 547.9,71.4 551.2,70.5C554.6,69.6 558.3,68.8 560.2,68.0C562.2,67.2 561.7,66.4 563.0,65.8C564.3,65.2 565.6,64.3 568.0,64.6C570.4,64.9 573.8,66.3 577.5,67.5C581.2,68.7 586.2,70.2 590.0,71.5C593.8,72.8 596.3,73.6 600.0,75.0C603.7,76.4 608.7,78.2 612.0,80.0C615.3,81.8 617.5,83.8 620.0,86.0C622.5,88.2 624.5,90.2 627.0,93.0C629.5,95.8 632.7,99.6 635.0,102.5C637.3,105.4 638.9,106.9 641.0,110.2C643.1,113.6 645.5,118.5 647.5,122.5C649.5,126.5 651.3,130.2 653.0,134.0C654.7,137.8 656.2,141.2 657.5,145.0C658.8,148.8 660.0,153.0 661.0,157.0C662.0,161.0 662.8,165.0 663.5,169.0C664.2,173.0 664.8,176.7 665.0,181.0C665.2,185.3 664.8,190.2 664.6,195.0C664.4,199.8 664.2,205.0 664.0,210.0C663.8,215.0 663.4,220.0 663.1,225.0C662.8,230.0 662.6,232.5 662.4,240.0C662.2,247.5 662.1,260.0 662.0,270.0C661.9,280.0 662.0,286.7 662.0,300.0C662.0,313.3 662.0,333.3 662.0,350.0C662.0,366.7 662.0,383.3 662.0,400.0C662.0,416.7 662.0,433.3 662.0,450.0C662.0,466.7 662.1,485.0 662.0,500.0C661.9,515.0 661.7,530.0 661.5,540.0C661.3,550.0 661.0,552.5 661.0,560.0C661.0,567.5 661.2,576.7 661.5,585.0C661.8,593.3 662.2,602.5 662.5,610.0C662.8,617.5 663.2,623.8 663.5,630.0C663.8,636.2 664.2,641.7 664.5,647.5C664.8,653.3 665.3,658.8 665.0,665.0C664.7,671.2 664.0,678.8 662.5,685.0C661.0,691.2 658.9,697.1 656.0,702.5C653.1,707.9 648.7,713.2 645.0,717.5C641.3,721.8 638.1,725.2 633.8,728.0C629.4,730.8 623.8,732.4 618.8,734.0C613.8,735.6 608.5,736.8 603.8,737.5C599.0,738.2 594.8,738.7 590.0,738.0C585.2,737.3 578.8,734.7 575.0,733.5C571.2,732.3 571.4,734.1 567.0,731.0C562.6,727.9 554.8,720.7 548.8,715.0C542.8,709.3 536.0,702.5 531.0,697.0C526.0,691.5 522.5,688.0 519.0,682.0C515.5,676.0 512.2,667.2 510.0,661.0C507.8,654.8 506.9,651.5 506.0,645.0C505.1,638.5 504.9,628.3 504.5,622.0C504.1,615.7 503.6,610.9 503.3,607.0C503.0,603.1 502.0,602.0 502.5,598.8C503.0,595.5 504.6,590.9 506.2,587.5C507.9,584.1 510.0,581.4 512.2,578.5C514.5,575.6 517.0,572.8 519.8,570.2C522.5,567.7 525.4,565.4 528.8,563.0C532.1,560.6 535.6,558.1 540.0,556.0C544.4,553.9 550.0,551.8 555.0,550.5C560.0,549.2 565.6,549.1 570.0,548.5C574.4,547.9 578.1,547.6 581.2,547.0C584.4,546.4 586.5,545.8 588.8,545.0C591.0,544.2 591.9,545.0 595.0,542.5C598.1,540.0 603.8,535.0 607.5,530.0C611.2,525.0 614.8,518.8 617.5,512.5C620.2,506.2 622.1,497.9 623.8,492.5C625.4,487.1 626.4,487.1 627.5,480.0C628.6,472.9 629.5,460.0 630.1,450.0C630.7,440.0 631.1,429.2 631.2,420.0C631.3,410.8 631.4,403.3 630.8,395.0C630.2,386.7 628.5,377.2 627.5,370.0C626.5,362.8 625.7,357.8 624.5,352.0C623.3,346.2 622.0,340.2 620.5,335.0C619.0,329.8 617.2,325.7 615.5,321.0C613.8,316.3 612.4,312.3 610.0,307.0C607.6,301.7 603.9,294.5 601.0,289.0C598.1,283.5 595.6,278.2 592.5,273.8C589.4,269.3 585.4,265.4 582.5,262.5C579.6,259.6 578.1,258.8 575.0,256.5C571.9,254.2 568.2,252.4 563.8,249.0C559.2,245.6 553.6,241.5 548.0,236.0C542.4,230.5 535.5,222.8 530.0,216.0C524.5,209.2 519.0,201.7 515.0,195.0C511.0,188.3 508.0,181.0 506.0,176.0C504.0,171.0 503.8,170.2 503.0,165.0C502.2,159.8 501.5,152.2 501.5,145.0C501.5,137.8 501.6,128.7 503.0,122.0C504.4,115.3 507.7,110.0 510.0,105.0C512.3,100.0 514.6,96.0 517.0,92.0C519.4,88.0 521.7,83.8 524.2,81.2C526.8,78.7 529.9,78.0 532.5,76.8C535.1,75.5 536.9,74.5 540.0,73.5Z" fill="none" stroke="#dedede" stroke-width="0.8"/>
  <!-- side buttons (left) -->
  <path d="M516,89.300 C512,89.600 508.500,92.500 505.500,98 C503,103.500 502,110 503.500,116 C506,113 509,106 512,100 C514,96 516,92.500 516,89.300 Z" fill="#ebebeb" stroke="#c6c6c6" stroke-width="0.900"/>
  <path d="M501.500,124.500 C498.500,127 496.800,133 496.700,140 C496.800,146 498,150.500 500.500,152.500 C502.500,149 502,142 502,136 C502,131 502.500,127 501.500,124.500 Z" fill="#ebebeb" stroke="#c6c6c6" stroke-width="0.900"/>
  <path d="M502,168 C500.800,172 501.800,178 505,185 C506.800,189 508.500,192 510.500,194.500 C511,190 508.500,184 506.500,178 C505,174 503.500,170 502,168 Z" fill="#ebebeb" stroke="#c6c6c6" stroke-width="0.900"/>
  <!-- Type-C slot -->
  <path d="M560.500,68.500 C562,65.800 566,64.500 570.500,65.600 L616.500,80 C620,81.300 621.800,84 621,87.500 L619.500,90.500 L562.500,75 Z" fill="#f4f4f4" stroke="#e0e0e0" stroke-width="0.700"/>
  <path d="M562,69.500 C563,67.500 566,66.800 569,67.600 L616,82.300 C618.500,83.200 619.500,85 619,87.200 L617,87.800 L563.500,72.800 Z" fill="#dedede"/>
  <rect x="560.500" y="78" width="35" height="8.400" rx="4.200" fill="#d6d6d6" transform="rotate(15 578 82.200)"/>
  <path d="M579,75.800 L600.500,82.600" stroke="#333333" stroke-width="1.500" stroke-linecap="round"/>
  <rect x="565" y="81.700" width="29" height="4.700" rx="2.350" fill="#151515" transform="rotate(15 579.500 84)"/>
  <!-- top ring + disc -->
  <path d="M639.0,168.8C639.9,172.4 640.6,176.1 641.0,179.9C641.5,183.7 641.7,187.7 641.6,191.8C641.5,195.8 641.2,200.0 640.5,204.2C639.7,208.4 638.6,212.7 637.0,216.8C635.4,220.9 633.4,225.0 630.9,228.7C628.4,232.4 625.4,236.0 622.0,239.1C618.7,242.1 614.8,244.8 610.8,246.9C606.7,249.0 602.3,250.5 597.8,251.4C593.4,252.4 588.7,252.7 584.2,252.5C579.8,252.3 575.2,251.4 571.0,250.2C566.8,249.0 562.7,247.2 558.9,245.3C555.1,243.3 551.6,241.0 548.3,238.5C545.1,236.1 542.1,233.5 539.4,230.9C536.6,228.2 534.2,225.5 531.8,222.7C529.5,220.0 527.4,217.2 525.3,214.5C523.3,211.7 521.5,208.9 519.7,206.1C517.9,203.3 516.3,200.4 514.7,197.5C513.1,194.6 511.7,191.6 510.3,188.5C508.9,185.5 507.7,182.3 506.5,179.0C505.4,175.7 504.3,172.4 503.4,168.8C502.6,165.3 501.8,161.6 501.2,157.8C500.7,153.9 500.3,149.9 500.3,145.8C500.2,141.7 500.4,137.4 501.1,133.2C501.7,128.9 502.7,124.5 504.2,120.3C505.7,116.1 507.7,111.8 510.2,108.0C512.7,104.2 515.7,100.5 519.1,97.4C522.5,94.3 526.5,91.6 530.6,89.5C534.7,87.5 539.3,86.0 543.8,85.1C548.3,84.3 553.1,84.1 557.6,84.5C562.2,84.8 566.8,85.9 571.0,87.2C575.2,88.6 579.3,90.6 583.1,92.6C586.8,94.7 590.3,97.2 593.5,99.7C596.7,102.2 599.5,104.9 602.2,107.5C604.9,110.2 607.4,112.9 609.7,115.6C612.0,118.3 614.1,120.9 616.2,123.6C618.3,126.3 620.2,129.0 622.0,131.7C623.9,134.5 625.7,137.2 627.3,140.1C629.0,143.0 630.6,145.9 632.0,149.0C633.4,152.1 634.8,155.2 635.9,158.5C637.1,161.8 638.2,165.3 639.0,168.8Z" fill="#222222"/>
  <clipPath id="clipRT"><path d="M639.0,168.8C639.9,172.4 640.6,176.1 641.0,179.9C641.5,183.7 641.7,187.7 641.6,191.8C641.5,195.8 641.2,200.0 640.5,204.2C639.7,208.4 638.6,212.7 637.0,216.8C635.4,220.9 633.4,225.0 630.9,228.7C628.4,232.4 625.4,236.0 622.0,239.1C618.7,242.1 614.8,244.8 610.8,246.9C606.7,249.0 602.3,250.5 597.8,251.4C593.4,252.4 588.7,252.7 584.2,252.5C579.8,252.3 575.2,251.4 571.0,250.2C566.8,249.0 562.7,247.2 558.9,245.3C555.1,243.3 551.6,241.0 548.3,238.5C545.1,236.1 542.1,233.5 539.4,230.9C536.6,228.2 534.2,225.5 531.8,222.7C529.5,220.0 527.4,217.2 525.3,214.5C523.3,211.7 521.5,208.9 519.7,206.1C517.9,203.3 516.3,200.4 514.7,197.5C513.1,194.6 511.7,191.6 510.3,188.5C508.9,185.5 507.7,182.3 506.5,179.0C505.4,175.7 504.3,172.4 503.4,168.8C502.6,165.3 501.8,161.6 501.2,157.8C500.7,153.9 500.3,149.9 500.3,145.8C500.2,141.7 500.4,137.4 501.1,133.2C501.7,128.9 502.7,124.5 504.2,120.3C505.7,116.1 507.7,111.8 510.2,108.0C512.7,104.2 515.7,100.5 519.1,97.4C522.5,94.3 526.5,91.6 530.6,89.5C534.7,87.5 539.3,86.0 543.8,85.1C548.3,84.3 553.1,84.1 557.6,84.5C562.2,84.8 566.8,85.9 571.0,87.2C575.2,88.6 579.3,90.6 583.1,92.6C586.8,94.7 590.3,97.2 593.5,99.7C596.7,102.2 599.5,104.9 602.2,107.5C604.9,110.2 607.4,112.9 609.7,115.6C612.0,118.3 614.1,120.9 616.2,123.6C618.3,126.3 620.2,129.0 622.0,131.7C623.9,134.5 625.7,137.2 627.3,140.1C629.0,143.0 630.6,145.9 632.0,149.0C633.4,152.1 634.8,155.2 635.9,158.5C637.1,161.8 638.2,165.3 639.0,168.8Z"/></clipPath>
  <g clip-path="url(#clipRT)">
    <path d="M555,80 L566,100 L640,152 L660,150 L650,70 Z" fill="#474747"/>
    <path d="M639.0,168.8C639.9,172.4 640.6,176.1 641.0,179.9C641.5,183.7 641.7,187.7 641.6,191.8C641.5,195.8 641.2,200.0 640.5,204.2C639.7,208.4 638.6,212.7 637.0,216.8C635.4,220.9 633.4,225.0 630.9,228.7C628.4,232.4 625.4,236.0 622.0,239.1C618.7,242.1 614.8,244.8 610.8,246.9C606.7,249.0 602.3,250.5 597.8,251.4C593.4,252.4 588.7,252.7 584.2,252.5C579.8,252.3 575.2,251.4 571.0,250.2C566.8,249.0 562.7,247.2 558.9,245.3C555.1,243.3 551.6,241.0 548.3,238.5C545.1,236.1 542.1,233.5 539.4,230.9C536.6,228.2 534.2,225.5 531.8,222.7C529.5,220.0 527.4,217.2 525.3,214.5C523.3,211.7 521.5,208.9 519.7,206.1C517.9,203.3 516.3,200.4 514.7,197.5C513.1,194.6 511.7,191.6 510.3,188.5C508.9,185.5 507.7,182.3 506.5,179.0C505.4,175.7 504.3,172.4 503.4,168.8C502.6,165.3 501.8,161.6 501.2,157.8C500.7,153.9 500.3,149.9 500.3,145.8C500.2,141.7 500.4,137.4 501.1,133.2C501.7,128.9 502.7,124.5 504.2,120.3C505.7,116.1 507.7,111.8 510.2,108.0C512.7,104.2 515.7,100.5 519.1,97.4C522.5,94.3 526.5,91.6 530.6,89.5C534.7,87.5 539.3,86.0 543.8,85.1C548.3,84.3 553.1,84.1 557.6,84.5C562.2,84.8 566.8,85.9 571.0,87.2C575.2,88.6 579.3,90.6 583.1,92.6C586.8,94.7 590.3,97.2 593.5,99.7C596.7,102.2 599.5,104.9 602.2,107.5C604.9,110.2 607.4,112.9 609.7,115.6C612.0,118.3 614.1,120.9 616.2,123.6C618.3,126.3 620.2,129.0 622.0,131.7C623.9,134.5 625.7,137.2 627.3,140.1C629.0,143.0 630.6,145.9 632.0,149.0C633.4,152.1 634.8,155.2 635.9,158.5C637.1,161.8 638.2,165.3 639.0,168.8Z" fill="none" stroke="#1b1b1b" stroke-width="2.400"/>
  </g>
  <path d="M628.9,171.4C629.6,174.6 630.2,177.9 630.5,181.4C630.9,184.8 631.1,188.4 631.0,192.0C630.9,195.7 630.6,199.5 629.9,203.2C629.2,207.0 628.3,210.9 626.9,214.6C625.5,218.3 623.7,222.1 621.5,225.5C619.3,228.9 616.7,232.2 613.7,235.0C610.6,237.8 607.2,240.3 603.5,242.2C599.9,244.1 595.8,245.5 591.8,246.4C587.8,247.2 583.5,247.5 579.4,247.3C575.4,247.0 571.3,246.2 567.4,245.1C563.6,243.9 559.9,242.3 556.5,240.5C553.1,238.7 549.9,236.5 547.0,234.3C544.1,232.1 541.4,229.7 538.9,227.3C536.4,225.0 534.2,222.5 532.0,220.1C529.9,217.7 527.9,215.2 526.0,212.8C524.2,210.3 522.4,207.8 520.7,205.3C519.1,202.8 517.5,200.2 516.1,197.6C514.6,194.9 513.2,192.2 512.0,189.4C510.8,186.6 509.7,183.7 508.7,180.7C507.7,177.7 506.8,174.6 506.1,171.4C505.4,168.2 504.8,164.8 504.4,161.4C504.0,157.9 503.8,154.4 503.8,150.7C503.9,147.0 504.1,143.2 504.7,139.4C505.3,135.6 506.2,131.7 507.6,127.9C509.0,124.2 510.7,120.3 512.9,116.9C515.1,113.4 517.8,110.1 520.8,107.2C523.9,104.4 527.4,101.9 531.1,100.0C534.7,98.1 538.8,96.7 542.9,95.9C546.9,95.1 551.3,94.9 555.4,95.1C559.4,95.4 563.6,96.3 567.4,97.5C571.3,98.7 575.0,100.5 578.4,102.3C581.8,104.2 584.9,106.4 587.8,108.6C590.7,110.8 593.4,113.3 595.8,115.6C598.3,118.0 600.5,120.4 602.7,122.9C604.8,125.3 606.8,127.7 608.7,130.1C610.6,132.6 612.4,135.0 614.0,137.5C615.7,140.0 617.3,142.5 618.8,145.2C620.3,147.8 621.7,150.5 623.0,153.3C624.2,156.1 625.4,159.0 626.4,162.0C627.3,165.0 628.2,168.2 628.9,171.4Z" fill="url(#gDisc)" stroke="#f6f6f6" stroke-width="0.800"/>
  <!-- bottom ring + disc -->
  <path d="M638.9,648.5C639.7,652.1 640.3,655.8 640.7,659.6C641.1,663.4 641.4,667.4 641.2,671.4C641.1,675.5 640.8,679.7 640.0,683.8C639.2,687.9 638.1,692.2 636.5,696.3C635.0,700.4 633.0,704.5 630.5,708.2C628.0,711.9 625.0,715.5 621.7,718.6C618.4,721.6 614.5,724.3 610.5,726.4C606.5,728.5 602.0,730.1 597.6,731.0C593.2,732.0 588.5,732.3 584.1,732.1C579.6,731.9 575.1,731.1 570.8,729.9C566.6,728.8 562.5,727.0 558.7,725.1C554.9,723.3 551.4,720.9 548.1,718.6C544.8,716.2 541.8,713.6 539.0,711.1C536.2,708.5 533.6,705.8 531.2,703.1C528.8,700.3 526.6,697.6 524.6,694.8C522.5,692.0 520.6,689.2 518.8,686.4C517.0,683.5 515.3,680.6 513.7,677.6C512.2,674.7 510.7,671.6 509.4,668.5C508.1,665.4 506.9,662.2 505.8,658.8C504.7,655.5 503.7,652.1 502.9,648.5C502.1,645.0 501.4,641.3 500.9,637.5C500.5,633.7 500.1,629.7 500.2,625.6C500.2,621.5 500.4,617.2 501.1,613.0C501.8,608.8 502.8,604.4 504.3,600.2C505.9,596.1 507.9,591.9 510.4,588.1C512.8,584.3 515.9,580.6 519.3,577.6C522.7,574.6 526.6,571.9 530.7,569.9C534.8,567.9 539.4,566.4 543.9,565.6C548.4,564.8 553.1,564.7 557.6,565.1C562.1,565.4 566.6,566.5 570.8,567.8C575.0,569.2 579.1,571.1 582.8,573.1C586.5,575.2 589.9,577.6 593.1,580.0C596.3,582.4 599.2,585.0 601.9,587.6C604.6,590.1 607.1,592.8 609.5,595.4C611.8,598.0 614.0,600.6 616.1,603.2C618.3,605.9 620.3,608.5 622.1,611.3C624.0,614.0 625.8,616.8 627.5,619.7C629.2,622.6 630.7,625.5 632.2,628.6C633.6,631.7 634.9,634.9 636.0,638.2C637.1,641.5 638.1,645.0 638.9,648.5Z" fill="#222222"/>
  <clipPath id="clipRB"><path d="M638.9,648.5C639.7,652.1 640.3,655.8 640.7,659.6C641.1,663.4 641.4,667.4 641.2,671.4C641.1,675.5 640.8,679.7 640.0,683.8C639.2,687.9 638.1,692.2 636.5,696.3C635.0,700.4 633.0,704.5 630.5,708.2C628.0,711.9 625.0,715.5 621.7,718.6C618.4,721.6 614.5,724.3 610.5,726.4C606.5,728.5 602.0,730.1 597.6,731.0C593.2,732.0 588.5,732.3 584.1,732.1C579.6,731.9 575.1,731.1 570.8,729.9C566.6,728.8 562.5,727.0 558.7,725.1C554.9,723.3 551.4,720.9 548.1,718.6C544.8,716.2 541.8,713.6 539.0,711.1C536.2,708.5 533.6,705.8 531.2,703.1C528.8,700.3 526.6,697.6 524.6,694.8C522.5,692.0 520.6,689.2 518.8,686.4C517.0,683.5 515.3,680.6 513.7,677.6C512.2,674.7 510.7,671.6 509.4,668.5C508.1,665.4 506.9,662.2 505.8,658.8C504.7,655.5 503.7,652.1 502.9,648.5C502.1,645.0 501.4,641.3 500.9,637.5C500.5,633.7 500.1,629.7 500.2,625.6C500.2,621.5 500.4,617.2 501.1,613.0C501.8,608.8 502.8,604.4 504.3,600.2C505.9,596.1 507.9,591.9 510.4,588.1C512.8,584.3 515.9,580.6 519.3,577.6C522.7,574.6 526.6,571.9 530.7,569.9C534.8,567.9 539.4,566.4 543.9,565.6C548.4,564.8 553.1,564.7 557.6,565.1C562.1,565.4 566.6,566.5 570.8,567.8C575.0,569.2 579.1,571.1 582.8,573.1C586.5,575.2 589.9,577.6 593.1,580.0C596.3,582.4 599.2,585.0 601.9,587.6C604.6,590.1 607.1,592.8 609.5,595.4C611.8,598.0 614.0,600.6 616.1,603.2C618.3,605.9 620.3,608.5 622.1,611.3C624.0,614.0 625.8,616.8 627.5,619.7C629.2,622.6 630.7,625.5 632.2,628.6C633.6,631.7 634.9,634.9 636.0,638.2C637.1,641.5 638.1,645.0 638.9,648.5Z"/></clipPath>
  <g clip-path="url(#clipRB)">
    <path d="M556,560 L566,580 L630,622 L660,615 L650,550 Z" fill="#474747"/>
    <path d="M574,560 L579,560 L583,592 L578,592 Z" fill="#222222"/>
    <path d="M638.9,648.5C639.7,652.1 640.3,655.8 640.7,659.6C641.1,663.4 641.4,667.4 641.2,671.4C641.1,675.5 640.8,679.7 640.0,683.8C639.2,687.9 638.1,692.2 636.5,696.3C635.0,700.4 633.0,704.5 630.5,708.2C628.0,711.9 625.0,715.5 621.7,718.6C618.4,721.6 614.5,724.3 610.5,726.4C606.5,728.5 602.0,730.1 597.6,731.0C593.2,732.0 588.5,732.3 584.1,732.1C579.6,731.9 575.1,731.1 570.8,729.9C566.6,728.8 562.5,727.0 558.7,725.1C554.9,723.3 551.4,720.9 548.1,718.6C544.8,716.2 541.8,713.6 539.0,711.1C536.2,708.5 533.6,705.8 531.2,703.1C528.8,700.3 526.6,697.6 524.6,694.8C522.5,692.0 520.6,689.2 518.8,686.4C517.0,683.5 515.3,680.6 513.7,677.6C512.2,674.7 510.7,671.6 509.4,668.5C508.1,665.4 506.9,662.2 505.8,658.8C504.7,655.5 503.7,652.1 502.9,648.5C502.1,645.0 501.4,641.3 500.9,637.5C500.5,633.7 500.1,629.7 500.2,625.6C500.2,621.5 500.4,617.2 501.1,613.0C501.8,608.8 502.8,604.4 504.3,600.2C505.9,596.1 507.9,591.9 510.4,588.1C512.8,584.3 515.9,580.6 519.3,577.6C522.7,574.6 526.6,571.9 530.7,569.9C534.8,567.9 539.4,566.4 543.9,565.6C548.4,564.8 553.1,564.7 557.6,565.1C562.1,565.4 566.6,566.5 570.8,567.8C575.0,569.2 579.1,571.1 582.8,573.1C586.5,575.2 589.9,577.6 593.1,580.0C596.3,582.4 599.2,585.0 601.9,587.6C604.6,590.1 607.1,592.8 609.5,595.4C611.8,598.0 614.0,600.6 616.1,603.2C618.3,605.9 620.3,608.5 622.1,611.3C624.0,614.0 625.8,616.8 627.5,619.7C629.2,622.6 630.7,625.5 632.2,628.6C633.6,631.7 634.9,634.9 636.0,638.2C637.1,641.5 638.1,645.0 638.9,648.5Z" fill="none" stroke="#1b1b1b" stroke-width="2.400"/>
  </g>
  <path d="M629.3,651.1C630.0,654.3 630.4,657.7 630.7,661.2C631.0,664.6 631.1,668.2 630.9,671.8C630.8,675.4 630.4,679.2 629.7,682.9C629.0,686.7 628.0,690.5 626.6,694.2C625.2,697.9 623.4,701.7 621.2,705.0C619.0,708.4 616.4,711.8 613.4,714.6C610.4,717.4 606.9,720.0 603.3,721.9C599.7,723.9 595.7,725.4 591.7,726.3C587.7,727.2 583.4,727.5 579.3,727.3C575.3,727.1 571.1,726.4 567.2,725.3C563.4,724.2 559.7,722.5 556.2,720.8C552.8,719.0 549.6,716.8 546.6,714.7C543.6,712.5 540.9,710.1 538.4,707.7C535.9,705.3 533.6,702.9 531.4,700.4C529.2,698.0 527.2,695.6 525.3,693.1C523.4,690.6 521.6,688.1 519.9,685.5C518.2,682.9 516.6,680.3 515.2,677.6C513.7,674.9 512.3,672.2 511.1,669.3C509.9,666.5 508.9,663.5 507.9,660.5C507.0,657.5 506.2,654.3 505.6,651.1C504.9,647.9 504.4,644.5 504.1,641.1C503.8,637.7 503.7,634.1 503.8,630.5C503.9,626.9 504.2,623.1 504.9,619.3C505.6,615.6 506.5,611.7 507.9,608.0C509.3,604.3 511.0,600.5 513.2,597.0C515.4,593.6 518.0,590.3 521.0,587.5C524.0,584.7 527.5,582.1 531.1,580.2C534.8,578.3 538.8,576.8 542.8,576.0C546.9,575.1 551.1,574.9 555.2,575.1C559.3,575.4 563.4,576.2 567.2,577.4C571.1,578.6 574.8,580.3 578.2,582.1C581.6,583.9 584.7,586.1 587.7,588.3C590.6,590.5 593.2,592.9 595.7,595.2C598.2,597.6 600.5,600.0 602.7,602.4C604.8,604.7 606.9,607.1 608.8,609.5C610.7,612.0 612.6,614.4 614.3,616.9C616.1,619.4 617.7,621.9 619.3,624.6C620.8,627.2 622.2,630.0 623.5,632.8C624.8,635.7 625.9,638.6 626.9,641.7C627.8,644.7 628.7,647.9 629.3,651.1Z" fill="url(#gDisc)" stroke="#f6f6f6" stroke-width="0.800"/>
</g>

<!-- ================= CALLOUT LINES ================= -->
<g id="lines">
  <path class="ln" d="M517,33 H588.500 V79"/>
  <path class="ln" d="M226.500,95.500 H256 V133"/>
  <path class="ln" d="M136.500,229.500 H198.500"/>
  <path class="ln" d="M349,133 H331.200 V190"/>
  <path class="ln" d="M341.500,239 H356"/>
  <path class="ln" d="M332,272 V338"/>
</g>

<!-- ================= TEXT ================= -->
<g id="labels" style="opacity:0.999">
  <text class="h" x="292.5" y="37" font-size="17.5">Type-C Charging interface</text>
  <text class="h" x="127" y="97.5" font-size="17.3">TF memory</text>
  <text class="h" x="127" y="117.5" font-size="17.3">card</text>
  <text class="h" x="132.5" y="226" font-size="17.3" text-anchor="end">LED</text>
  <text class="h" x="132.5" y="244" font-size="17.3" text-anchor="end">screen</text>

  <text class="h" x="362" y="98" font-size="14.7">+Key</text>
  <text class="b" x="362" y="111.6">1. Click on "Volume Up"</text>
  <text class="b" x="362" y="124.3">2. Press and hold for 2</text>
  <text class="b" x="362" y="137">seconds for "Next Song"</text>
  <text class="b" x="362" y="149.6">3. Double click+key</text>
  <text class="b" x="362" y="162.2">"Single Loop"</text>

  <text class="h" x="366.5" y="212.5" font-size="14.4">Power on/off button</text>
  <text class="b" x="366.5" y="226">1. Long press "power on/off"</text>
  <text class="b" x="366.5" y="238.7">2. Short press "Pause"</text>
  <text class="b" x="366.5" y="251.5">3. Double click to switch</text>
  <text class="b" x="366.5" y="264.2">between Bluetooth mode/TF</text>
  <text class="b" x="366.5" y="277">card mode/built-in white noise</text>
  <text class="b" x="366.5" y="289.6">mode</text>
  <text class="b" x="366.5" y="302.4">4. Press "timer mode" three</text>
  <text class="b" x="366.5" y="315.1">times in a row</text>

  <text class="h" x="327.5" y="365.3" font-size="14.7">- Key</text>
  <text class="b" x="327.5" y="378.3">1. Click on 'Volume Down'</text>
  <text class="b" x="327.5" y="391.3">2. Long press for 2 seconds "Previous song</text>
</g>
</svg>
</body>
</html>
